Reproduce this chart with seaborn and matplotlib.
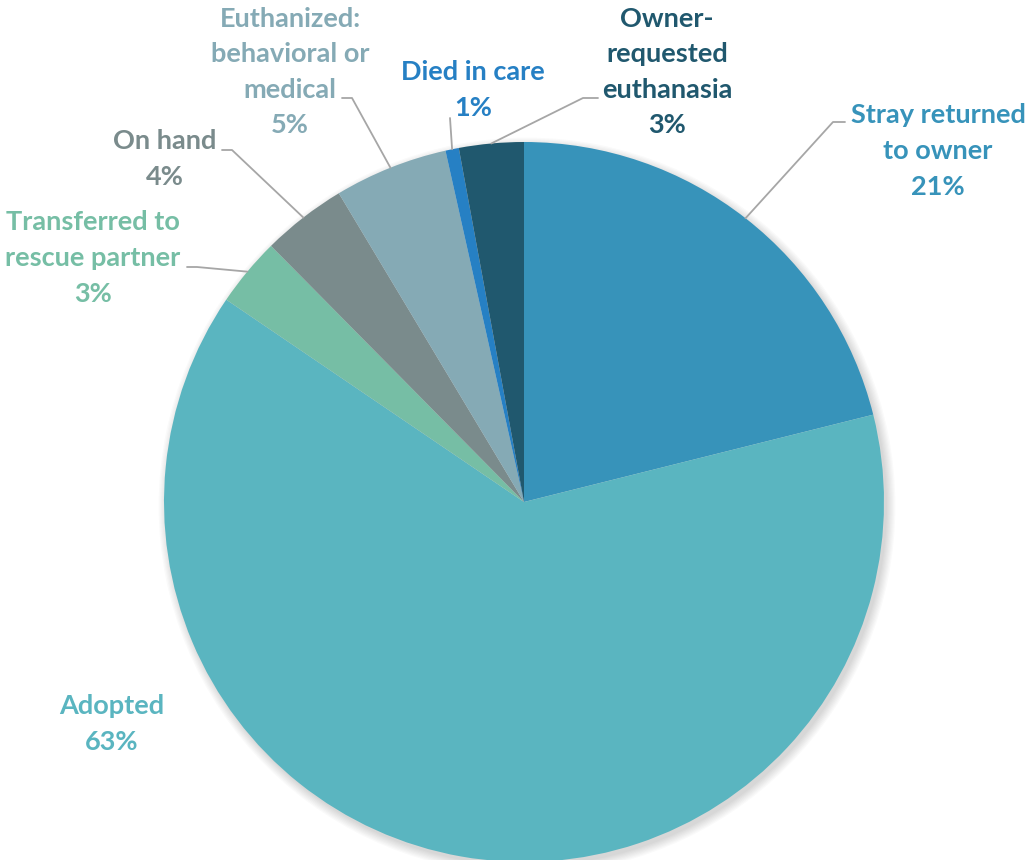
import numpy as np
import seaborn as sns
import matplotlib.pyplot as plt
from matplotlib.patches import Circle

sns.set_theme(style="white")
plt.rcParams['font.family'] = ['Lato', 'DejaVu Sans']

categories = ["Stray returned\nto owner", "Adopted", "Transferred to\nrescue partner",
              "On hand", "Euthanized:\nbehavioral or\nmedical", "Died in care",
              "Owner-\nrequested\neuthanasia"]
values = [21.1, 63.4, 3.1, 3.8, 5.1, 0.6, 2.9]
colors = ["#3793BA", "#5AB5C0", "#76BEA5", "#7A8B8C", "#85AAB5", "#2680C4", "#20586E"]

# label layout in image pixels: text centre, elbow point, end of horizontal stub
text_pos = [(938, 151), (112, 724), (93, 258), (165, 159), (290, 72), (473, 90), (667, 72)]
elbow = [(833, 122), None, (197, 267), (232, 150), (352, 98), (450, 118), (583, 98)]
stub = [(845, 122), None, (187, 267), (222, 150), (342, 98), None, (598, 98)]

H = 860
cx, cy, R = 524, 502, 360

fig = plt.figure(figsize=(10.28, 8.6), dpi=100)
ax = fig.add_axes([0, 0, 1, 1])

# soft shadow
for i in range(8):
    ax.add_patch(Circle((cx + 3, H - cy - 4), R + i * 1.2, color="black",
                        alpha=0.018, zorder=0, lw=0))

wedges, _ = ax.pie(values, colors=colors, startangle=90, counterclock=False,
                   center=(cx, H - cy), radius=R, wedgeprops=dict(linewidth=0))
ax.set_xlim(0, 1028)
ax.set_ylim(0, H)
ax.axis("off")

for w, name, v, col, tp, el, st in zip(wedges, categories, values, colors, text_pos, elbow, stub):
    ang = np.deg2rad((w.theta1 + w.theta2) / 2)
    ax.text(tp[0], H - tp[1], f"{name}\n{round(v)}%", ha="center", va="center",
            multialignment="center", color=col, fontsize=19.5, fontweight="bold",
            linespacing=1.58)
    if el is not None:
        x0 = cx + R * np.cos(ang)
        y0 = H - cy + R * np.sin(ang)
        xs = [x0, el[0]]
        ys = [y0, H - el[1]]
        if st is not None:
            xs.append(st[0])
            ys.append(H - st[1])
        ax.plot(xs, ys, color="#A6A6A6", lw=1.3, zorder=3)

fig.savefig("out.png", dpi=100)
